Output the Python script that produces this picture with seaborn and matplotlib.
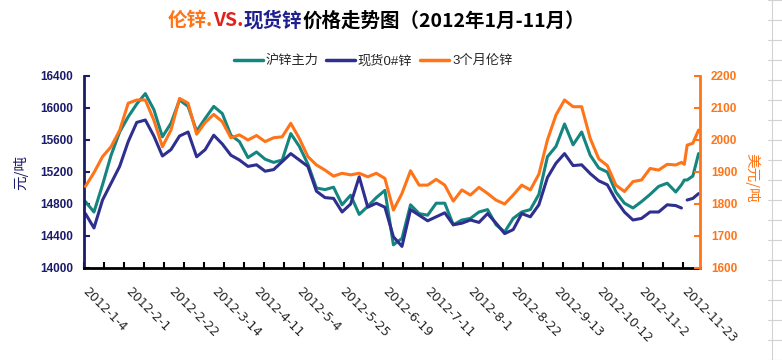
import numpy as np
import pandas as pd
import matplotlib
matplotlib.use('Agg')
import matplotlib.pyplot as plt
import matplotlib.transforms as mtransforms
from matplotlib.lines import Line2D
import seaborn as sns

# trading-day index (0 = 2012-1-4) of each reading
days = list(range(0, 208, 3)) + [209, 210, 211, 213, 215]

# 沪锌主力 (元/吨)
hu_zn = [14830, 14700, 15040, 15410, 15700, 15890, 16050, 16180, 15980, 15640,
         15810, 16100, 16020, 15710, 15870, 16020, 15930, 15660, 15580, 15380,
         15450, 15360, 15320, 15350, 15680, 15520, 15300, 15000, 14980, 15010,
         14790, 14910, 14670, 14770, 14880, 14970, 14290, 14370, 14790, 14680,
         14660, 14810, 14810, 14540, 14600, 14620, 14700, 14730, 14540, 14450,
         14620, 14700, 14730, 14920, 15390, 15520, 15800, 15540, 15700, 15410,
         15250, 15200, 14950, 14810, 14750, 14830, 14920, 15020, 15060, 14950,
         15040, 15100, 15100, 15150, 15430]

# 现货0#锌 (元/吨)
spot_zn = [14680, 14500, 14850, 15060, 15270, 15580, 15820, 15850, 15650, 15400,
           15480, 15650, 15700, 15390, 15480, 15660, 15550, 15410, 15350, 15270,
           15290, 15210, 15230, 15330, 15430, 15350, 15270, 14960, 14880, 14870,
           14700, 14800, 15140, 14760, 14810, 14760, 14390, 14270, 14730, 14660,
           14590, 14640, 14690, 14540, 14560, 14600, 14570, 14680, 14560, 14430,
           14480, 14680, 14640, 14790, 15130, 15310, 15430, 15280, 15290, 15180,
           15090, 15040, 14850, 14700, 14600, 14620, 14700, 14700, 14790, 14780,
           14750, np.nan, 14850, 14870, 14930]

# 3个月伦锌 (美元/吨)
lme_zn = [1855, 1898, 1948, 1979, 2030, 2115, 2125, 2125, 2062, 1979,
          2031, 2130, 2115, 2018, 2055, 2080, 2057, 2007, 2016, 2000,
          2014, 1995, 2007, 2010, 2052, 2005, 1948, 1922, 1906, 1887,
          1896, 1891, 1896, 1885, 1896, 1880, 1781, 1833, 1904, 1859,
          1859, 1877, 1859, 1809, 1844, 1828, 1852, 1833, 1812, 1800,
          1828, 1859, 1844, 1893, 2000, 2078, 2125, 2104, 2104, 2005,
          1941, 1920, 1859, 1839, 1870, 1875, 1911, 1906, 1924, 1922,
          1930, 1924, 1984, 1990, 2031]

label_days = [0, 15, 30, 45, 60, 75, 90, 105, 120, 135, 150, 165, 180, 195, 210]
date_labels = ['2012-1-4', '2012-2-1', '2012-2-22', '2012-3-14', '2012-4-11',
               '2012-5-4', '2012-5-25', '2012-6-19', '2012-7-11', '2012-8-1',
               '2012-8-22', '2012-9-13', '2012-10-12', '2012-11-2', '2012-11-23']

teal = '#14857F'
navy = '#2E2F8E'
orange = '#FF7418'
axis_navy = '#1C1A6B'

sns.set_style('white')
plt.rcParams['font.family'] = ['Liberation Sans', 'Noto Sans CJK SC']
plt.rcParams['axes.unicode_minus'] = False

df = pd.DataFrame({'day': days, 'hu': hu_zn, 'spot': spot_zn, 'lme': lme_zn})
df['seg'] = df['spot'].isna().cumsum()

fig = plt.figure(figsize=(7.82, 3.6), dpi=100)
ax = fig.add_axes([84 / 782, 1 - 268 / 360, 616 / 782, 192 / 360])
ax2 = ax.twinx()

sns.lineplot(data=df, x='day', y='hu', color=teal, lw=2.2, ax=ax)
sns.lineplot(data=df.dropna(subset=['spot']), x='day', y='spot', units='seg',
             estimator=None, color=navy, lw=2.2, ax=ax)
sns.lineplot(data=df, x='day', y='lme', color=orange, lw=2.2, ax=ax2)

# axes, spines
ax.set_xlim(-0.5, 215.5)
ax.set_ylim(14000, 16400)
ax2.set_ylim(1600, 2200)
for s in ['top', 'right']:
    ax.spines[s].set_visible(False)
for s in ['top', 'left', 'bottom']:
    ax2.spines[s].set_visible(False)
ax.spines['left'].set_color(axis_navy)
ax.spines['left'].set_linewidth(2)
ax.spines['bottom'].set_color('black')
ax.spines['bottom'].set_linewidth(2)
ax2.spines['right'].set_color(orange)
ax2.spines['right'].set_linewidth(2)

ax.set_yticks(range(14000, 16401, 400))
ax.tick_params(axis='y', left=True, direction='in', length=4, width=1.5,
               color=axis_navy, labelcolor=axis_navy, labelsize=8.5, pad=8)
ax2.set_yticks(range(1600, 2201, 100))
ax2.tick_params(axis='y', right=True, direction='in', length=4, width=1.5,
                color=orange, labelcolor=orange, labelsize=8.5, pad=8)
for lbl in ax.get_yticklabels() + ax2.get_yticklabels():
    lbl.set_fontweight('bold')

ax.set_xticks(label_days)
ax.set_xticklabels(date_labels, rotation=-45, ha='left', va='top',
                   rotation_mode='anchor', fontsize=9, family='DejaVu Sans')
ax.set_xticks(np.arange(-0.5, 215, 7), minor=True)
ax.tick_params(axis='x', which='major', bottom=True, length=0, pad=12)
ax.tick_params(axis='x', which='minor', bottom=True, direction='in',
               length=4, width=1.5, color='black')
shift = mtransforms.ScaledTranslation(4 / 100, 0, fig.dpi_scale_trans)
for lbl in ax.get_xticklabels():
    lbl.set_transform(lbl.get_transform() + shift)

ax.set_xlabel('')
ax.set_ylabel('')
ax2.set_ylabel('')
fig.text(21 / 782, 1 - 172 / 360, '元/吨', rotation=90, ha='center', va='center',
         color=axis_navy, fontsize=10.5, family='Noto Sans CJK SC')
fig.text(752 / 782, 1 - 178 / 360, '美元/吨', rotation=270, ha='center', va='center',
         color=orange, fontsize=10.5, family='Noto Sans CJK SC')

# legend
handles = [Line2D([], [], color=teal, lw=2.5),
           Line2D([], [], color=navy, lw=2.5),
           Line2D([], [], color=orange, lw=2.5)]
fig.legend(handles, ['沪锌主力', '现货0#锌', '3个月伦锌'], loc='center',
           bbox_to_anchor=(373 / 782, 1 - 61 / 360), ncol=3, frameon=False,
           fontsize=9.5, handlelength=2.2, handletextpad=0.2, columnspacing=0.6)

# multi-colour title
pieces = [('伦锌.', orange), ('VS.', '#E3211C'), ('现货锌', '#1F1F8F'),
          ('价格走势图（2012年1月-11月）', 'black')]
tkw = dict(fontsize=14, fontweight='bold', family='Noto Sans CJK SC')
t = fig.text(168 / 782, 1 - 21 / 360, pieces[0][0], color=pieces[0][1],
             ha='left', va='center', **tkw)
for txt, col in pieces[1:]:
    t = ax.annotate(txt, xy=(1, 0), xycoords=t, ha='left', va='bottom',
                    color=col, **tkw)

# spreadsheet cell lines showing at the right edge
fig.add_artist(Line2D([772 / 782, 772 / 782], [0, 1], color='#D2D2D2', lw=0.8))
for y in range(0, 361, 20):
    fig.add_artist(Line2D([768 / 782, 1], [1 - y / 360, 1 - y / 360],
                          color='#D2D2D2', lw=0.8))

fig.savefig('out.png', dpi=100)
